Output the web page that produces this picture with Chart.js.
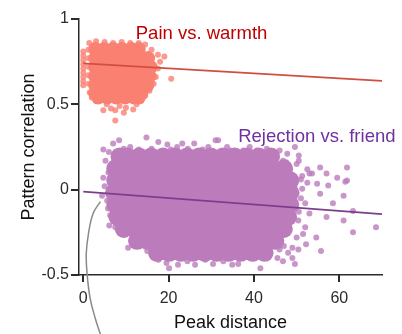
<!DOCTYPE html>
<html>
<head>
<meta charset="utf-8">
<script src="https://cdn.jsdelivr.net/npm/chart.js@4"></script>
<style>
  body { margin: 0; background: #fff; }
  canvas { display: block; }
</style>
</head>
<body>
<canvas id="peakChart" width="402" height="334"></canvas>
<script>
// axis ticks
const xTicks = [0, 20, 40, 60];
const yTicks = [-0.5, 0, 0.5, 1];

// fitted lines (peak distance 0 -> 70)
const fitX = [0, 70];
const painFitY = [0.74, 0.637];
const rejectFitY = [-0.012, -0.143];

// pain vs. warmth: dense body, read row by row [y, xs]
const painCoreRows = [
  [0.824, [2.8, 4.9, 7.0, 9.1, 11.2, 13.0]],
  [0.771, [2.8, 4.9, 7.0, 9.1, 11.2, 13.3, 15.2]],
  [0.718, [2.8, 4.9, 7.0, 9.1, 11.2, 13.3, 15.8]],
  [0.665, [2.8, 4.9, 7.0, 9.1, 11.2, 13.3, 15.5]],
  [0.612, [2.8, 4.9, 7.0, 9.1, 11.2, 13.3, 15.0]],
  [0.565, [2.8, 4.9, 7.0, 9.1, 11.2, 13.6]],
  [0.54, [3.5, 5.6, 7.7, 9.8, 11.9, 13.0]]
];

// pain vs. warmth: loose points around the edge
const painEdgeX = [0, 0, 0, 0, 0, 0, 0, 0, 0,
  1.4, 3, 5, 7, 9, 11, 13, 14.5,
  16, 17.5, 18, 17.5, 19, 20.6, 17, 16.5, 15.5, 14.5,
  1.2, 1.2, 1.2, 1.2, 1.3, 1.5, 2,
  3, 4.7, 5.5, 7.5, 7.5, 8.5, 10, 11.7, 12.5, 13.5, 6.5, 9.5];
const painEdgeY = [0.81, 0.785, 0.76, 0.735, 0.71, 0.685, 0.66, 0.635, 0.612,
  0.86, 0.87, 0.865, 0.86, 0.865, 0.86, 0.86, 0.85,
  0.82, 0.79, 0.75, 0.71, 0.78, 0.65, 0.66, 0.62, 0.58, 0.55,
  0.82, 0.77, 0.72, 0.67, 0.62, 0.57, 0.54,
  0.52, 0.465, 0.5, 0.465, 0.406, 0.49, 0.48, 0.47, 0.5, 0.52, 0.475, 0.45];

// rejection vs. friend: dense body, read row by row [y, xs]
const rejectCoreRows = [
  [0.195, [8.5, 10.3, 13.1, 15.9, 18.7, 21.5, 24.3, 27.1, 29.9, 32.7, 35.5, 38.3, 41.1, 44.0]],
  [0.125, [7.5, 10.3, 13.1, 15.9, 18.7, 21.5, 24.3, 27.1, 29.9, 32.7, 35.5, 38.3, 41.1, 43.9, 47.0]],
  [0.055, [7.5, 10.3, 13.1, 15.9, 18.7, 21.5, 24.3, 27.1, 29.9, 32.7, 35.5, 38.3, 41.1, 43.9, 46.7, 48.5]],
  [-0.018, [7.2, 10.0, 12.8, 15.6, 18.4, 21.2, 24.0, 26.8, 29.6, 32.4, 35.2, 38.0, 40.8, 43.6, 46.4, 48.5]],
  [-0.088, [7.5, 10.3, 13.1, 15.9, 18.7, 21.5, 24.3, 27.1, 29.9, 32.7, 35.5, 38.3, 41.1, 43.9, 46.7, 48.5]],
  [-0.16, [8.0, 10.8, 13.6, 16.4, 19.2, 22.0, 24.8, 27.6, 30.4, 33.2, 36.0, 38.8, 41.6, 44.4, 47.0, 48.0]],
  [-0.23, [9.5, 12.3, 15.1, 17.9, 20.7, 23.5, 26.3, 29.1, 31.9, 34.7, 37.5, 40.3, 43.1, 45.9, 47.0]],
  [-0.30, [12.6, 15.4, 18.2, 21.0, 23.8, 26.6, 29.4, 32.2, 35.0, 37.8, 40.6, 43.4, 45.0]],
  [-0.37, [17.3, 20.1, 22.9, 25.7, 28.5, 31.3, 34.1, 36.9, 39.7, 42.5]]
];

// rejection vs. friend: loose points around the edge
const rejectEdgeX = [4.7, 7, 8.4, 11, 14.8, 17.6, 19.7, 22, 23.2, 26, 29.3, 31, 31.6, 33.7, 35.4,
  37.5, 39, 40.7, 43, 46, 47.8, 49.6, 46.8, 48.5, 51.3,
  6, 9.5, 13, 16, 20.5, 24.5, 28, 34.5, 42, 44.5,
  4.7, 5.9, 4.4, 5.6, 6.3, 6.1, 7.5, 9.1, 5.2, 5.0, 5.8,
  10.5, 11.5, 13.3, 14.5, 16.2, 17.6, 20.1, 22.2, 24.4, 26.2, 28.6, 30.4, 32.8, 34.9,
  36.3, 39.8, 41.5, 43.3, 46.8, 49.6, 49, 19.5, 15, 12, 8.5,
  53, 57, 59.5, 61.8, 54.8, 57.4, 51.3, 55.5, 61, 58.5, 63.2, 53, 57, 61, 63.2, 68.6,
  54.6, 52.2, 55.7, 50.4, 49.6, 50.4, 50, 49, 55.5, 61.8, 53.6, 52.5, 61.4, 50, 51, 52, 50.5,
  50.5, 52.5, 49.5, 51, 50, 52, 50.5, 51.5, 48, 47, 46, 45.5, 44, 47.5];
const rejectEdgeY = [0.235, 0.27, 0.29, 0.25, 0.305, 0.28, 0.265, 0.25, 0.27, 0.27, 0.25, 0.29, 0.29, 0.25, 0.21,
  0.23, 0.25, 0.23, 0.24, 0.23, 0.21, 0.25, 0.17, 0.12, 0.08,
  0.22, 0.24, 0.235, 0.24, 0.235, 0.24, 0.235, 0.23, 0.215, 0.2,
  0.07, 0.1, -0.035, -0.065, -0.15, -0.21, -0.22, -0.22, 0.17, 0.02, -0.11,
  -0.34, -0.26, -0.29, -0.335, -0.39, -0.41, -0.46, -0.44, -0.42, -0.44, -0.41, -0.435, -0.42, -0.44,
  -0.435, -0.4, -0.46, -0.38, -0.42, -0.435, -0.4, -0.43, -0.36, -0.31, -0.25,
  0.094, 0.094, 0.07, 0.053, 0.035, 0.024, 0.006, -0.024, -0.035, -0.08, -0.125, -0.14, -0.16, -0.18, -0.25, -0.22,
  -0.28, -0.32, -0.36, -0.35, -0.1, -0.18, -0.28, -0.34, 0.13, 0.13, 0.094, 0.04, 0.047, 0.15, -0.05, -0.22, 0.2,
  0.17, 0.12, 0.03, 0.06, -0.02, -0.08, -0.13, -0.26, -0.37, -0.33, -0.35, -0.4, 0.2, 0.16];

// grey connector curve leaving the figure at the bottom
const tailX = [4.0, 2.3, 1.2, 0.7, 0.9, 1.6, 2.8, 4.0];
const tailY = [-0.07, -0.14, -0.26, -0.376, -0.494, -0.635, -0.753, -0.847];

const PAIN = "rgb(250, 128, 114)";
const PAIN_SOFT = "rgba(250, 128, 114, 0.8)";
const REJECT = "rgb(188, 124, 188)";
const REJECT_SOFT = "rgba(188, 124, 188, 0.8)";
const AXIS = "#2b2b2b";
const FONT = "'Liberation Sans', Arial, sans-serif";

function rowsToPoints(rows) {
  const pts = [];
  rows.forEach(([y, xs]) => xs.forEach(x => pts.push({ x: x, y: y })));
  return pts;
}

function zipPoints(xs, ys) {
  return xs.map((x, i) => ({ x: x, y: ys[i] }));
}

// group names and the short outward tick marks
const overlay = {
  id: "overlay",
  afterDatasetsDraw(chart) {
    const c = chart.ctx;
    const area = chart.chartArea;
    const sx = chart.scales.x;
    const sy = chart.scales.y;
    c.save();
    c.font = "18.5px " + FONT;
    c.textAlign = "left";
    c.textBaseline = "alphabetic";
    c.fillStyle = "#C00000";
    c.fillText("Pain vs. warmth", sx.getPixelForValue(12.3), sy.getPixelForValue(0.88));
    c.fillStyle = "#7030A0";
    c.fillText("Rejection vs. friend", sx.getPixelForValue(36.3), sy.getPixelForValue(0.28));

    c.strokeStyle = AXIS;
    c.lineWidth = 2;
    c.beginPath();
    xTicks.forEach(v => {
      const px = Math.round(sx.getPixelForValue(v));
      c.moveTo(px, area.bottom);
      c.lineTo(px, area.bottom + 7);
    });
    yTicks.forEach(v => {
      const py = Math.round(sy.getPixelForValue(v));
      c.moveTo(area.left, py);
      c.lineTo(area.left - 8, py);
    });
    c.stroke();
    c.restore();
  }
};

const ctx = document.getElementById("peakChart").getContext("2d");

new Chart(ctx, {
  type: "scatter",
  data: {
    datasets: [
      {
        type: "line",
        data: zipPoints(fitX, painFitY),
        borderColor: "#D24E3E",
        borderWidth: 1.8,
        pointRadius: 0,
        order: 0
      },
      {
        type: "line",
        data: zipPoints(fitX, rejectFitY),
        borderColor: "#7E3D8C",
        borderWidth: 1.8,
        pointRadius: 0,
        order: 0
      },
      {
        type: "line",
        data: zipPoints(tailX, tailY),
        borderColor: "#8a8a8a",
        borderWidth: 1.5,
        pointRadius: 0,
        tension: 0.4,
        clip: false,
        order: 0
      },
      {
        data: rowsToPoints(painCoreRows),
        backgroundColor: PAIN,
        borderWidth: 0,
        pointRadius: 7,
        order: 2
      },
      {
        data: zipPoints(painEdgeX, painEdgeY),
        backgroundColor: PAIN_SOFT,
        borderWidth: 0,
        pointRadius: 3,
        order: 3
      },
      {
        data: rowsToPoints(rejectCoreRows),
        backgroundColor: REJECT,
        borderWidth: 0,
        pointRadius: 9,
        order: 2
      },
      {
        data: zipPoints(rejectEdgeX, rejectEdgeY),
        backgroundColor: REJECT_SOFT,
        borderWidth: 0,
        pointRadius: 3,
        order: 3
      }
    ]
  },
  options: {
    responsive: false,
    animation: false,
    devicePixelRatio: 1,
    layout: { padding: { top: 19, right: 20, left: 0, bottom: 0 } },
    plugins: {
      legend: { display: false },
      tooltip: { enabled: false }
    },
    scales: {
      x: {
        type: "linear",
        min: -1,
        max: 70,
        afterBuildTicks: axis => { axis.ticks = xTicks.map(v => ({ value: v })); },
        afterFit: axis => { axis.height = 59; },
        grid: { display: true, drawOnChartArea: false, drawTicks: true, tickLength: 7, color: AXIS, lineWidth: 2 },
        border: { display: true, color: AXIS, width: 1.5 },
        ticks: { color: AXIS, font: { family: FONT, size: 16 }, padding: 7, maxRotation: 0 },
        title: {
          display: true,
          text: "Peak distance",
          color: "#111",
          font: { family: FONT, size: 18 },
          padding: { top: 0, bottom: 0 }
        }
      },
      y: {
        type: "linear",
        min: -0.5,
        max: 1,
        afterBuildTicks: axis => { axis.ticks = yTicks.map(v => ({ value: v })); },
        afterFit: axis => { axis.width = 79; },
        grid: { display: true, drawOnChartArea: false, drawTicks: true, tickLength: 8, color: AXIS, lineWidth: 2 },
        border: { display: true, color: AXIS, width: 1.5 },
        ticks: {
          color: AXIS,
          font: { family: FONT, size: 16 },
          padding: 2,
          callback: v => String(v)
        },
        title: {
          display: true,
          text: "Pattern correlation",
          color: "#111",
          font: { family: FONT, size: 18 },
          padding: { top: 18, bottom: 0 }
        }
      }
    }
  },
  plugins: [overlay]
});
</script>
</body>
</html>
